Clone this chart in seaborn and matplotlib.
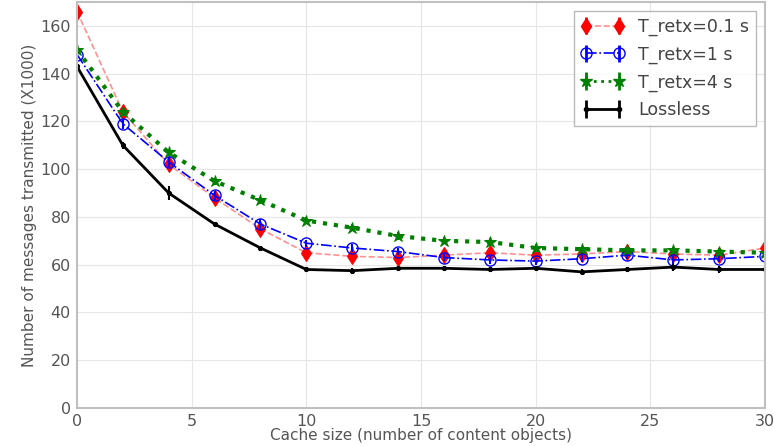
import numpy as np
import pandas as pd
import seaborn as sns
import matplotlib.pyplot as plt

sns.set_style("whitegrid")
plt.rcParams['font.family'] = ['DejaVu Sans']

cache_size = [0, 2, 4, 6, 8, 10, 12, 14, 16, 18, 20, 22, 24, 26, 28, 30]

retx_01 = [166, 124, 102, 88, 75, 65, 63.5, 63, 64, 65, 64, 64.5, 65.5, 64.5, 64, 67]
retx_1 = [148, 119, 103, 89, 77, 69, 67, 65.5, 63, 62, 61.5, 62.5, 64, 62, 62.5, 63.5]
retx_4 = [150, 124, 107, 95, 87, 78.5, 75.5, 72, 70, 69.5, 67, 66.5, 66, 66, 65.5, 65]
lossless = [143, 110, 90, 77, 67, 58, 57.5, 58.5, 58.5, 58, 58.5, 57, 58, 59, 58, 58]

err_01 = [3, 2, 2, 2, 3, 2, 2, 2, 2, 2, 2, 2, 2, 2, 2, 4]
err_1 = [2, 2, 2, 2, 2, 1.5, 1.5, 1.5, 1.5, 1.5, 1.5, 1.5, 1.5, 1.5, 1.5, 1.5]
err_4 = [2, 1.5, 1.5, 1.5, 1.5, 1.5, 1.5, 1.5, 1.5, 1.5, 1.5, 1.5, 1.5, 1.5, 1.5, 1.5]
err_ll = [1.5, 1.5, 3, 1, 1, 1, 1, 1, 1, 1, 1, 1, 1, 1.5, 1.5, 1]

labels = ['T_retx=0.1 s', 'T_retx=1 s', 'T_retx=4 s', 'Lossless']

df = pd.DataFrame({'Cache': cache_size, 'r01': retx_01, 'r1': retx_1,
                   'r4': retx_4, 'll': lossless})

fig = plt.figure(figsize=(7.74, 4.46), dpi=100)
ax = fig.add_axes([77 / 774, 38 / 446, 688 / 774, 406 / 446])

styles = [
    ('r01', err_01, dict(color='#ff9090', linestyle='--', linewidth=1.2, marker='d',
                         markersize=8, markerfacecolor='red', markeredgecolor='red'),
     'red'),
    ('r1', err_1, dict(color='blue', linestyle='-.', linewidth=1.2, marker='o',
                       markersize=8, markerfacecolor='none', markeredgecolor='blue',
                       markeredgewidth=1.0), 'blue'),
    ('r4', err_4, dict(color='green', linestyle=':', linewidth=3, marker='*',
                       markersize=9, markerfacecolor='green', markeredgecolor='green'),
     'green'),
    ('ll', err_ll, dict(color='black', linestyle='-', linewidth=2, marker='.',
                        markersize=6, markerfacecolor='black', markeredgecolor='black'),
     'black'),
]

for (col, err, kw, ecol), lab in zip(styles, labels):
    sns.lineplot(data=df, x='Cache', y=col, ax=ax, legend=False, **kw)
    ax.errorbar(df['Cache'], df[col], yerr=err, fmt='none', ecolor=ecol,
                elinewidth=1.5, capsize=0)
    # legend proxy
    ax.errorbar([], [], yerr=[], fmt=kw['marker'], linestyle=kw['linestyle'],
                color=kw['color'], markerfacecolor=kw['markerfacecolor'],
                markeredgecolor=kw['markeredgecolor'], markersize=kw['markersize'],
                linewidth=kw['linewidth'] if col != 'r4' else 2, ecolor=ecol,
                elinewidth=2, capsize=0, label=lab)

ax.set_xlim(0, 30)
ax.set_ylim(0, 170)
ax.set_xticks([0, 5, 10, 15, 20, 25, 30])
ax.set_yticks([0, 20, 40, 60, 80, 100, 120, 140, 160])
ax.tick_params(labelsize=11.5, colors='#555555', pad=1)
ax.set_xlabel('Cache size (number of content objects)', fontsize=11, color='#555555', labelpad=-1)
ax.set_ylabel('Number of messages transmitted (X1000)', fontsize=11, color='#555555', labelpad=2)
ax.grid(color='#e6e6e6', linewidth=0.8)
for s in ax.spines.values():
    s.set_color('#c0c0c0')
    s.set_linewidth(1.5)

leg = ax.legend(loc='upper right', fontsize=12.5, numpoints=2, fancybox=False,
                frameon=True, borderaxespad=0.5, handlelength=2.5, labelspacing=0.55)
leg.get_frame().set_edgecolor('#aaaaaa')
for t in leg.get_texts():
    t.set_color('#444444')

plt.savefig('out.png', dpi=100)
